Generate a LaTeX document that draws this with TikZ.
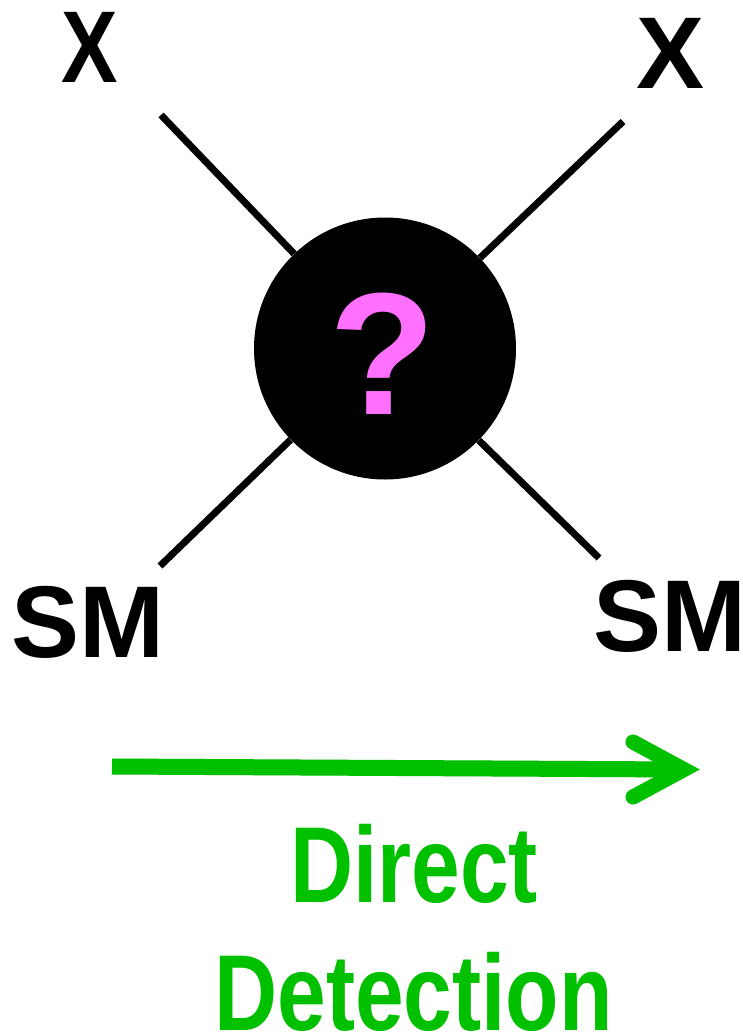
\documentclass[tikz,border=0pt]{standalone}
\usepackage{fontspec}
\usepackage{graphicx}
\setmainfont{Liberation Sans}
\definecolor{ddgreen}{RGB}{0,192,0}
\definecolor{qpink}{RGB}{255,112,255}
\tikzset{
  leg/.style={line width=7pt, black, line cap=butt},
  lbl/.style={inner sep=0pt, anchor=base, font=\fontsize{102}{102}\selectfont\bfseries},
  ddtext/.style={inner sep=0pt, anchor=base, text=ddgreen, font=\fontsize{108}{108}\selectfont\bfseries},
  shaft/.style={line width=16pt, ddgreen, line cap=butt},
  chev/.style={line width=15pt, ddgreen, line cap=round, line join=miter},
  shade/.style={black, opacity=0.12}
}
\begin{document}
\begin{tikzpicture}[x=1pt, y=-1pt]
\useasboundingbox[fill=white] (0,0) rectangle (742,1032);
% blob
\node[circle, fill=black, minimum size=262pt, inner sep=0pt] (blob) at (385,348.5) {};
\node[inner sep=0pt, anchor=base, text=qpink, font=\fontsize{174}{174}\selectfont\bfseries] (q) at (382.5,414) {?};
% leg ends
\coordinate (ul) at (161,115);
\coordinate (ur) at (623,121.5);
\coordinate (ll) at (160,566);
\coordinate (lr) at (599,558);
\draw[leg] (ul) -- (blob);
\draw[leg] (ur) -- (blob);
\draw[leg] (ll) -- (blob);
\draw[leg] (lr) -- (blob);
% labels
\node[lbl] (x1) at (90,83) {\scalebox{0.83}[1]{X}};
\node[lbl] (x2) at (670.5,89) {X};
\node[lbl] (sm1) at (88,657) {SM};
\node[lbl] (sm2) at (670,651) {SM};
% arrow
\coordinate (as) at (112,766.5);
\coordinate (ae) at (684,769.5);
\coordinate (h1) at (633,742);
\coordinate (h2) at (633,797);
\begin{scope}[shift={(2,3)}]
\draw[shaft, shade] (as) -- (ae);
\draw[chev, shade] (h1) -- (ae) -- (h2);
\end{scope}
\draw[shaft] (as) -- (ae);
\draw[chev] (h1) -- (ae) -- (h2);
% text
\node[ddtext] (d1) at (414,902) {\scalebox{0.81}[1]{Direct}};
\node[ddtext] (d2) at (413.5,1030) {\scalebox{0.81}[1]{Detection}};
\end{tikzpicture}
\end{document}
